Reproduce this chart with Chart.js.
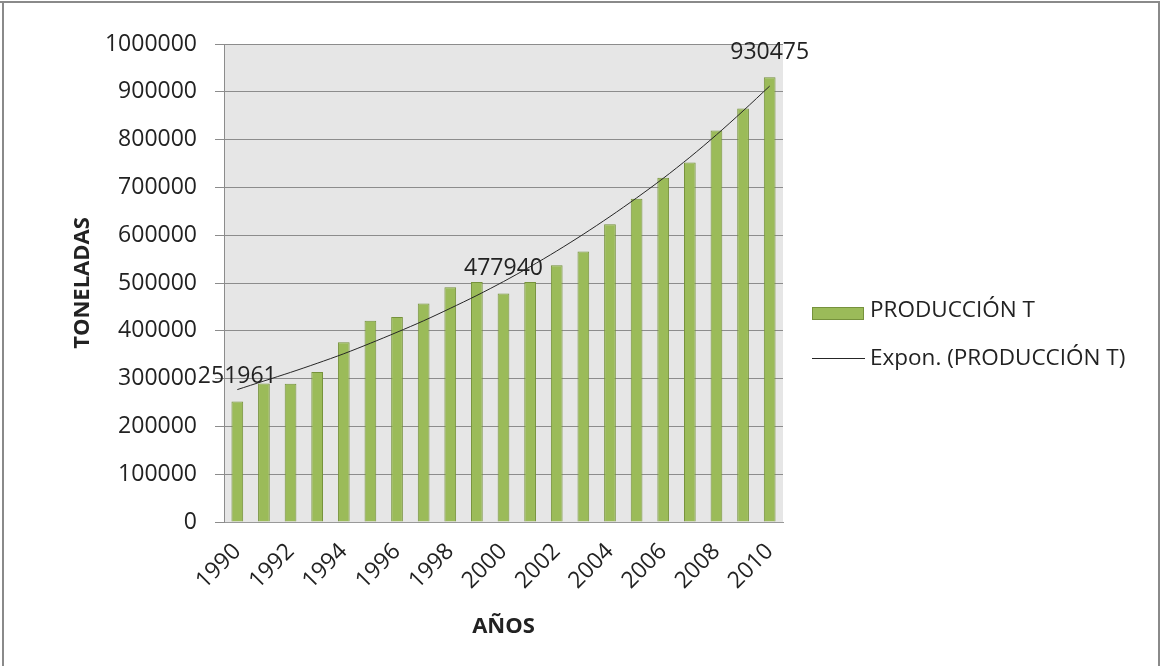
<!DOCTYPE html>
<html>
<head>
<meta charset="utf-8">
<script src="https://cdn.jsdelivr.net/npm/chart.js@4.4.1/dist/chart.umd.min.js"></script>
<style>
  html, body { margin: 0; padding: 0; background: #ffffff; }
  #wrap { width: 1160px; height: 666px; position: relative; }
</style>
</head>
<body>
<div id="wrap"><canvas id="c" width="1160" height="666"></canvas></div>
<script>
// ---- data ----
const years = ['1990','1991','1992','1993','1994','1995','1996','1997','1998','1999','2000',
               '2001','2002','2003','2004','2005','2006','2007','2008','2009','2010'];
const produccion = [251961, 290000, 289000, 314000, 376000, 421000, 429000, 457000, 491000, 502000, 477940,
                    502000, 537000, 566000, 623000, 676000, 720000, 752000, 819000, 865000, 930475];
const tendencia = [277000, 295000, 313000, 332000, 352000, 374000, 397000, 421000, 447000, 474000, 503000,
                   534000, 567000, 602000, 639000, 678000, 719000, 763000, 810000, 860000, 912000];
const labeledIdx = [0, 10, 20];
const yTicks = [0, 100000, 200000, 300000, 400000, 500000, 600000, 700000, 800000, 900000, 1000000];
const serieBarra = 'PRODUCCIÓN T';
const serieTendencia = 'Expon. (PRODUCCIÓN T)';
const tituloY = 'TONELADAS';
const tituloX = 'AÑOS';

const FONT = "'Open Sans', 'Noto Sans', sans-serif";
const TXT = '#222222';
const BAR_FILL = '#9bbb59';
const BAR_EDGE = '#76923c';
const LINE_COL = '#262626';

const bgPlugin = {
  id: 'plotBg',
  beforeDraw(chart) {
    const {ctx, chartArea: a} = chart;
    ctx.save();
    ctx.fillStyle = '#ffffff';
    ctx.fillRect(0, 0, chart.width, chart.height);
    ctx.fillStyle = '#e6e6e6';
    ctx.fillRect(a.left, a.top, a.right - a.left, a.bottom - a.top);
    ctx.restore();
  },
  afterDraw(chart) {
    const {ctx} = chart;
    ctx.save();
    ctx.fillStyle = '#8a8a8a';
    ctx.fillRect(0, 1, chart.width, 2);
    ctx.fillRect(2, 1, 2, chart.height);
    ctx.fillRect(chart.width - 2, 1, 2, chart.height);
    ctx.restore();
  }
};

const labelPlugin = {
  id: 'valueLabels',
  afterDatasetsDraw(chart) {
    const {ctx} = chart;
    const meta = chart.getDatasetMeta(1);
    ctx.save();
    ctx.font = "23px " + FONT;
    ctx.fillStyle = TXT;
    ctx.textAlign = 'center';
    ctx.textBaseline = 'middle';
    labeledIdx.forEach(i => {
      const el = meta.data[i];
      ctx.fillText(String(produccion[i]), el.x, el.y - 25);
    });
    ctx.restore();
  }
};

// legend drawn to the right of the plot area (built-in legend is width-capped)
const legendPlugin = {
  id: 'sideLegend',
  afterDraw(chart) {
    const {ctx, chartArea: a} = chart;
    const x0 = a.right + 29;
    const mid = chart.height / 2 + 1;
    const rows = [
      { text: serieBarra, kind: 'bar', y: mid - 24 },
      { text: serieTendencia, kind: 'line', y: mid + 24 }
    ];
    ctx.save();
    ctx.font = "22.5px " + FONT;
    ctx.fillStyle = TXT;
    ctx.textAlign = 'left';
    ctx.textBaseline = 'middle';
    rows.forEach(r => {
      if (r.kind === 'bar') {
        ctx.fillStyle = BAR_FILL;
        ctx.fillRect(x0, r.y - 3, 51, 12);
        ctx.strokeStyle = BAR_EDGE;
        ctx.lineWidth = 1;
        ctx.strokeRect(x0 + 0.5, r.y - 2.5, 51, 12);
      } else {
        ctx.strokeStyle = LINE_COL;
        ctx.lineWidth = 1;
        ctx.beginPath();
        ctx.moveTo(x0, r.y + 0.5);
        ctx.lineTo(x0 + 53, r.y + 0.5);
        ctx.stroke();
      }
      ctx.fillStyle = TXT;
      ctx.fillText(r.text, x0 + 58, r.y + 1);
    });
    ctx.restore();
  }
};

new Chart(document.getElementById('c'), {
  type: 'bar',
  data: {
    labels: years,
    datasets: [
      {
        type: 'line',
        label: serieTendencia,
        data: tendencia,
        borderColor: LINE_COL,
        borderWidth: 1,
        pointRadius: 0,
        fill: false,
        tension: 0.3,
        order: 0
      },
      {
        type: 'bar',
        label: serieBarra,
        data: produccion,
        backgroundColor: BAR_FILL,
        borderColor: BAR_EDGE,
        borderWidth: 1,
        barPercentage: 0.44,
        categoryPercentage: 1.0,
        order: 1
      }
    ]
  },
  options: {
    responsive: false,
    animation: false,
    devicePixelRatio: 1,
    layout: { padding: { left: 0, top: 44, right: 377, bottom: 0 } },
    plugins: {
      tooltip: { enabled: false },
      legend: { display: false }
    },
    scales: {
      x: {
        grid: { display: false },
        border: { display: true, color: '#999999', width: 1 },
        ticks: {
          autoSkip: false,
          minRotation: 45,
          maxRotation: 45,
          padding: 8,
          color: TXT,
          font: { family: FONT, size: 23 },
          callback(v, i) { return i % 2 === 0 ? years[i] : ''; }
        },
        title: {
          display: true,
          text: tituloX,
          color: TXT,
          font: { family: FONT, size: 22, weight: 'bold' },
          padding: { top: 0, bottom: 26 }
        },
        afterFit(scale) { scale.height = 144; }
      },
      y: {
        min: 0,
        max: 1000000,
        afterBuildTicks(scale) { scale.ticks = yTicks.map(v => ({ value: v })); },
        grid: { color: '#8c8c8c', lineWidth: 1, drawTicks: true, tickLength: 9, tickColor: '#8c8c8c' },
        border: { display: true, color: '#8c8c8c', width: 1 },
        ticks: {
          padding: 18,
          color: TXT,
          font: { family: FONT, size: 23 },
          callback(v) { return String(v); }
        },
        title: {
          display: true,
          text: tituloY,
          color: TXT,
          font: { family: FONT, size: 22, weight: 'bold' },
          padding: { top: 70, bottom: 0 }
        },
        afterFit(scale) { scale.width = 224; }
      }
    }
  },
  plugins: [bgPlugin, labelPlugin, legendPlugin]
});
</script>
</body>
</html>
